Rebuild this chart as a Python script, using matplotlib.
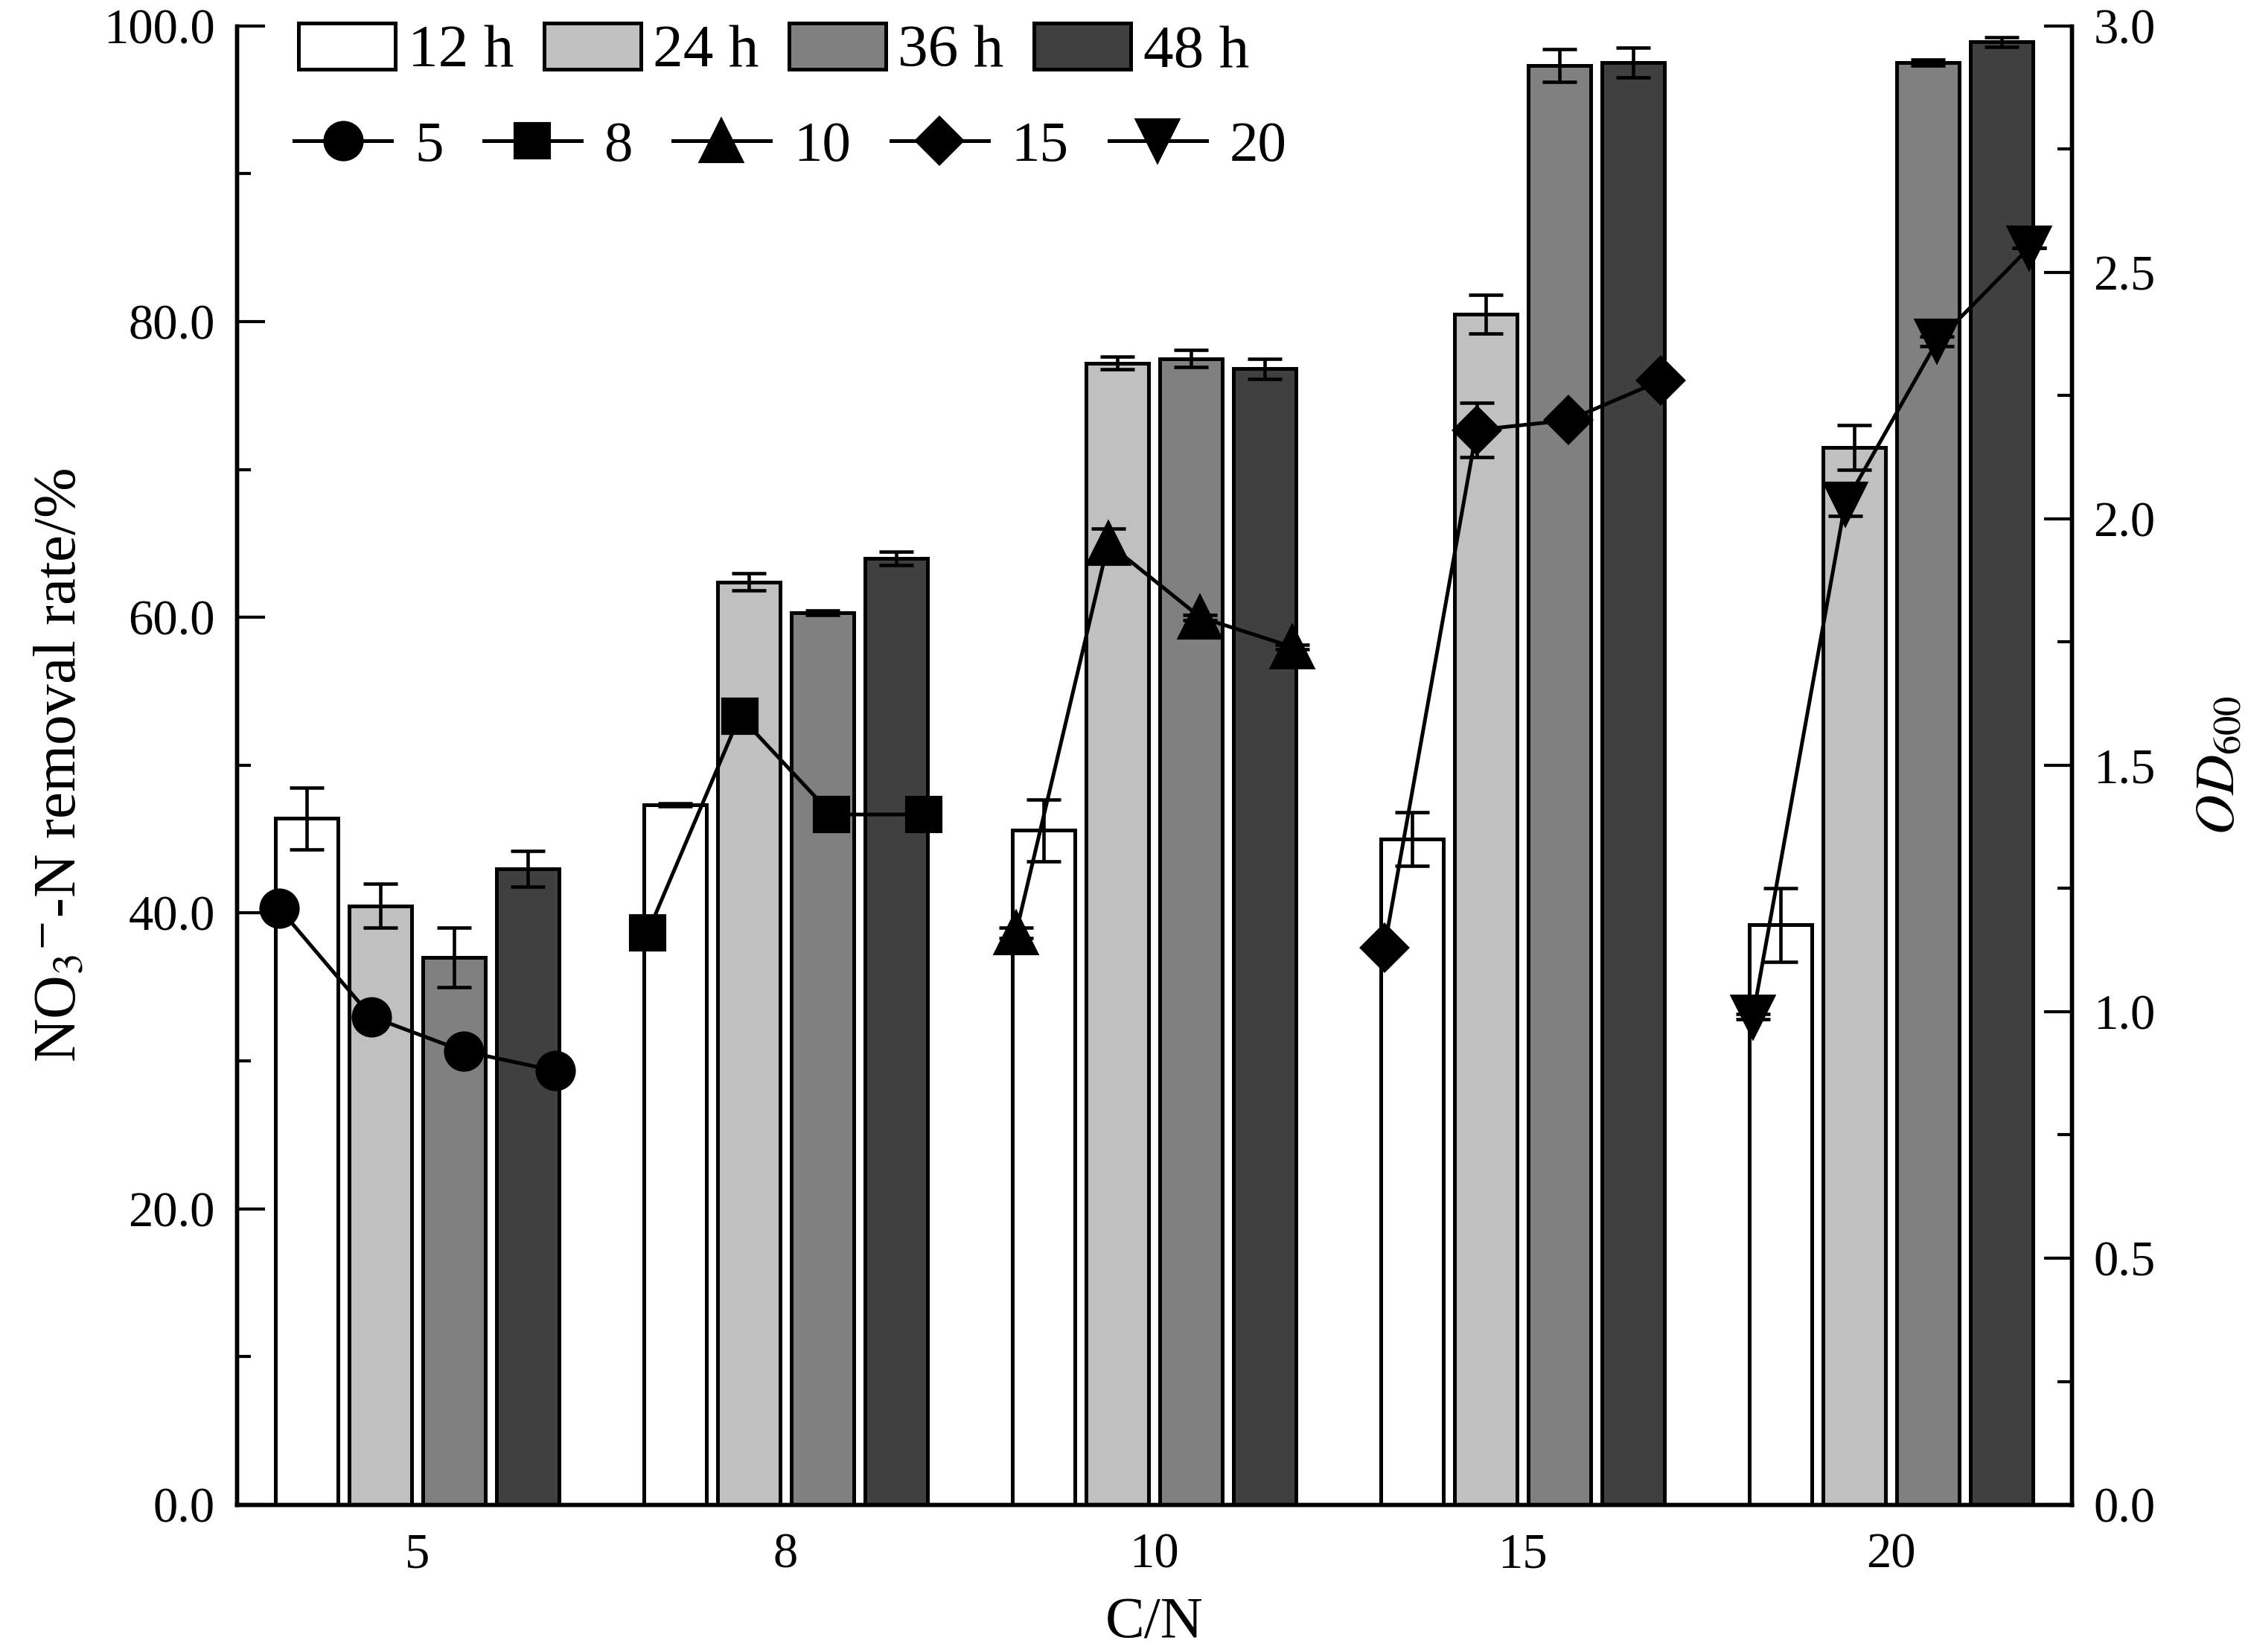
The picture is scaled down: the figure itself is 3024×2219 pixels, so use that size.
import numpy as np
import matplotlib
matplotlib.use("Agg")
import matplotlib.pyplot as plt
from matplotlib.ticker import MultipleLocator, FormatStrFormatter

plt.rcParams['font.family'] = ['Liberation Serif', 'DejaVu Serif']
plt.rcParams['mathtext.fontset'] = 'stix'
plt.rcParams['font.size'] = 16

# C/N groups
cn_labels = ['5', '8', '10', '15', '20']
times = ['12 h', '24 h', '36 h', '48 h']

# NO3--N removal rate (%), rows = C/N, cols = time
removal = np.array([
    [46.4, 40.5, 37.0, 43.0],
    [47.3, 62.4, 60.3, 64.0],
    [45.6, 77.2, 77.5, 76.8],
    [45.0, 80.5, 97.3, 97.5],
    [39.2, 71.5, 97.5, 98.9],
])
removal_err = np.array([
    [2.1, 1.5, 2.0, 1.2],
    [0.1, 0.6, 0.15, 0.45],
    [2.1, 0.45, 0.6, 0.7],
    [1.8, 1.3, 1.1, 1.0],
    [2.5, 1.5, 0.2, 0.35],
])

# OD600, rows = C/N, cols = time
od = np.array([
    [1.21, 0.99, 0.92, 0.88],
    [1.16, 1.60, 1.40, 1.40],
    [1.16, 1.95, 1.80, 1.74],
    [1.13, 2.18, 2.20, 2.28],
    [0.99, 2.03, 2.36, 2.55],
])
od_err = np.array([
    [0.0, 0.0, 0.0, 0.0],
    [0.0, 0.0, 0.0, 0.0],
    [0.01, 0.03, 0.005, 0.005],
    [0.01, 0.055, 0.0, 0.0],
    [0.005, 0.025, 0.01, 0.0],
])

bar_colors = ['white', '#c0c0c0', '#808080', '#404040']
markers = ['o', 's', '^', 'D', 'v']
msizes = [12, 11, 13.5, 10.5, 13.5]

fig = plt.figure(figsize=(10.08, 7.3967), dpi=300)
ax = fig.add_axes([0.1052, 0.0892, 0.8151, 0.8952])
ax2 = ax.twinx()

x = np.arange(len(cn_labels))
bar_off = [-0.3, -0.1, 0.1, 0.3]
pt_off = [-0.375, -0.125, 0.125, 0.375]
width = 0.17

bar_handles = []
for j in range(4):
    b = ax.bar(x + bar_off[j], removal[:, j], width, color=bar_colors[j],
               edgecolor='black', linewidth=1.2, label=times[j], zorder=2)
    ax.errorbar(x + bar_off[j], removal[:, j], yerr=removal_err[:, j], fmt='none',
                ecolor='black', elinewidth=1.1, capsize=5.5, capthick=1.1, zorder=3)
    bar_handles.append(b)

line_handles = []
for i in range(len(cn_labels)):
    xs = x[i] + np.array(pt_off)
    ln, = ax2.plot(xs, od[i], '-', color='black', lw=1.2, marker=markers[i],
                   ms=msizes[i], mfc='black', mec='black', label=cn_labels[i], zorder=4)
    ax2.errorbar(xs, od[i], yerr=od_err[i], fmt='none', ecolor='black',
                 elinewidth=1.1, capsize=5.5, capthick=1.1, zorder=3)
    line_handles.append(ln)

ax.set_xlim(-0.49, 4.49)
ax.set_ylim(0, 100)
ax2.set_ylim(0, 3.0)

ax.set_xticks(x)
ax.set_xticklabels(cn_labels)
ax.tick_params(axis='x', length=0, pad=9)
ax.yaxis.set_major_locator(MultipleLocator(20))
ax.yaxis.set_minor_locator(MultipleLocator(10))
ax.yaxis.set_major_formatter(FormatStrFormatter('%.1f'))
ax.tick_params(axis='y', which='major', direction='in', length=9, width=1.0, pad=7)
ax.tick_params(axis='y', which='minor', direction='in', length=4.5, width=1.0)

ax2.yaxis.set_major_locator(MultipleLocator(0.5))
ax2.yaxis.set_minor_locator(MultipleLocator(0.25))
ax2.yaxis.set_major_formatter(FormatStrFormatter('%.1f'))
ax2.tick_params(axis='y', which='major', direction='in', length=9, width=1.0, pad=7)
ax2.tick_params(axis='y', which='minor', direction='in', length=4.5, width=1.0)

for a in (ax, ax2):
    a.spines['top'].set_visible(False)
    for s in ('left', 'right', 'bottom'):
        a.spines[s].set_linewidth(1.3)

ax.set_xlabel('C/N', fontsize=19, labelpad=6)
ax.set_ylabel(r'NO$_3$$^{-}$-N removal rate/%', fontsize=19.5, labelpad=5)
ax2.set_ylabel(r'$\mathit{OD}_{600}$', fontsize=18, rotation=90, labelpad=13)

leg1 = ax2.legend(bar_handles, times, ncol=4, frameon=False,
                  loc='center left', bbox_to_anchor=(0.1327, 0.969),
                  bbox_transform=fig.transFigure, borderpad=0, borderaxespad=0,
                  handlelength=1.6, handleheight=0.8, handletextpad=0.2,
                  columnspacing=0.5, fontsize=19.5)
ax2.add_artist(leg1)
ax2.legend(line_handles, cn_labels, ncol=5, frameon=False,
           loc='center left', bbox_to_anchor=(0.1307, 0.911),
           bbox_transform=fig.transFigure, borderpad=0, borderaxespad=0,
           handlelength=1.7, handletextpad=0.4, columnspacing=0.7, fontsize=18.5)

fig.savefig('out.png', dpi=300)
